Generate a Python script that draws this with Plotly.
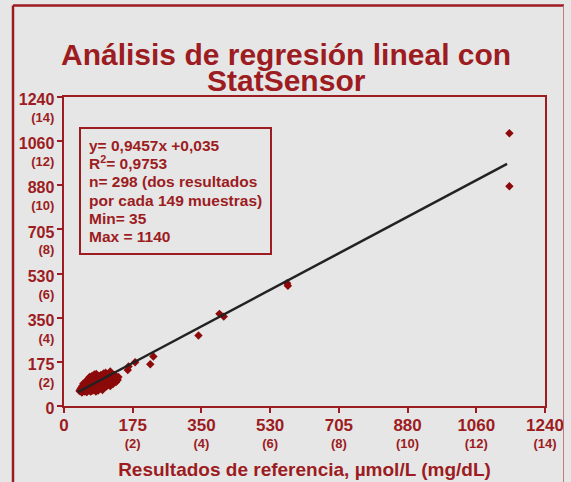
import plotly.graph_objects as go

# ---- data ----
mg_ticks = [0, 2, 4, 6, 8, 10, 12, 14]
umol_labels = ["0", "175", "350", "530", "705", "880", "1060", "1240"]
mg_labels = ["", "(2)", "(4)", "(6)", "(8)", "(10)", "(12)", "(14)"]
MG_TO_UMOL = 88.4

cluster_x = [40, 42, 44, 45, 47, 48, 50, 50, 52, 53, 55, 55, 57, 58, 60, 60, 62, 63, 64, 65,
             66, 67, 68, 69, 70, 72, 72, 74, 75, 76, 78, 78, 80, 80, 82, 83, 84, 85, 86, 87,
             88, 90, 90, 92, 93, 94, 95, 96, 98, 99, 100, 101, 102, 103, 105, 106, 107, 108, 110, 110,
             112, 113, 115, 116, 118, 119, 120, 122, 124, 126, 128, 130, 132, 134, 137, 138, 140,
             119, 131, 46, 58, 70, 84, 96, 108]
cluster_y = [60, 66, 72, 58, 80, 64, 90, 70, 58, 76, 96, 84, 64, 72, 100, 58, 88, 110, 68, 78,
             116, 96, 58, 86, 106, 74, 120, 62, 92, 112, 82, 126, 70, 100, 58, 128, 90, 114, 76, 104,
             62, 120, 86, 96, 70, 110, 124, 80, 100, 64, 114, 88, 130, 74, 104, 120, 133, 92, 80, 112,
             126, 98, 86, 118, 106, 80, 124, 94, 112, 88, 118, 100, 108, 96, 112, 104, 116,
             138, 124, 54, 56, 60, 66, 72, 78]

outlier_x = [164, 166, 183, 222, 230, 346, 400, 411, 574, 576, 1146, 1146]
outlier_y = [144, 158, 175, 167, 198, 282, 369, 358, 492, 482, 1092, 880]

line_x = [35, 1140]
line_y = [55, 970]

stats_lines = ["y= 0,9457x +0,035", "R<sup>2</sup>= 0,9753", "n= 298 (dos resultados",
               "por cada 149 muestras)", "Min= 35", "Max = 1140"]

RED = "#9c1c22"
MARK = "#8c0a0a"
BG = "#e6e6e6"
FONT = "Liberation Sans, Arial, sans-serif"

tickvals = [m * MG_TO_UMOL for m in mg_ticks]
x_ticktext = [f"<span style='font-size:17px'>{u}</span>" + (f"<br>{m}" if m else "")
              for u, m in zip(umol_labels, mg_labels)]
y_ticktext = [f"<span style='font-size:16px'>{u}</span><br>" + (m if m else " ")
              for u, m in zip(umol_labels, mg_labels)]

fig = go.Figure()
fig.add_trace(go.Scatter(x=cluster_x + outlier_x, y=cluster_y + outlier_y, mode="markers",
                         marker=dict(symbol="diamond", size=6.5, color=MARK), showlegend=False))
fig.add_trace(go.Scatter(x=line_x, y=line_y, mode="lines",
                         line=dict(color="#222222", width=2.5), showlegend=False))

axis_common = dict(range=[0, 14 * MG_TO_UMOL], tickvals=tickvals, showgrid=False, zeroline=False,
                   showline=True, linecolor=RED, linewidth=2, mirror=True, automargin=False,
                   ticks="outside", ticklen=5, tickwidth=2, tickcolor=RED)
fig.update_xaxes(**axis_common, ticktext=x_ticktext, ticklabelstandoff=2,
                 tickfont=dict(family=FONT, size=13, color=RED, weight="bold"),
                 title=dict(text="Resultados de referencia, µmol/L (mg/dL)",
                            font=dict(family=FONT, size=19, color=RED, weight="bold"),
                            standoff=13))
fig.update_yaxes(**axis_common, ticktext=y_ticktext, ticklabelshift=12,
                 tickfont=dict(family=FONT, size=13, color=RED, weight="bold"))

TX = (286 - 64) / 481
fig.add_annotation(text="Análisis de regresión lineal con", xref="paper", yref="paper",
                   x=TX, y=1.136, xanchor="center", yanchor="middle", showarrow=False,
                   font=dict(family=FONT, size=30, color=RED, weight="bold"))
fig.add_annotation(text="StatSensor", xref="paper", yref="paper",
                   x=TX, y=1.052, xanchor="center", yanchor="middle", showarrow=False,
                   font=dict(family=FONT, size=30, color=RED, weight="bold"))
stats_text = "<br>".join(f"<span style='font-size:15.5px'>{s}</span>" for s in stats_lines)
fig.add_annotation(text=stats_text, xref="paper", yref="paper",
                   x=(79 - 64) / 481, y=(406 - 127) / 309, xanchor="left", yanchor="top",
                   align="left", showarrow=False, bordercolor=RED, borderwidth=2, borderpad=8,
                   font=dict(family=FONT, size=14, color=RED, weight="bold"))

# outer frame
def px_x(p):
    return (p - 64) / 481

def px_y(p):
    return (406 - p) / 309

fig.add_shape(type="line", xref="paper", yref="paper", x0=px_x(13), x1=px_x(13),
              y0=px_y(5.5), y1=px_y(500), line=dict(color=RED, width=2.5))
fig.add_shape(type="line", xref="paper", yref="paper", x0=px_x(13), x1=px_x(564),
              y0=px_y(5.5), y1=px_y(5.5), line=dict(color=RED, width=2.5))
fig.add_shape(type="line", xref="paper", yref="paper", x0=px_x(563.5), x1=px_x(563.5),
              y0=px_y(5.5), y1=px_y(500), line=dict(color="#c07a7e", width=1))

fig.update_layout(width=571, height=482, margin=dict(l=64, r=26, t=97, b=76),
                  paper_bgcolor=BG, plot_bgcolor=BG, showlegend=False)

fig.write_html("out.html", config={"displayModeBar": False},
               post_script="document.body.style.margin='0';")
